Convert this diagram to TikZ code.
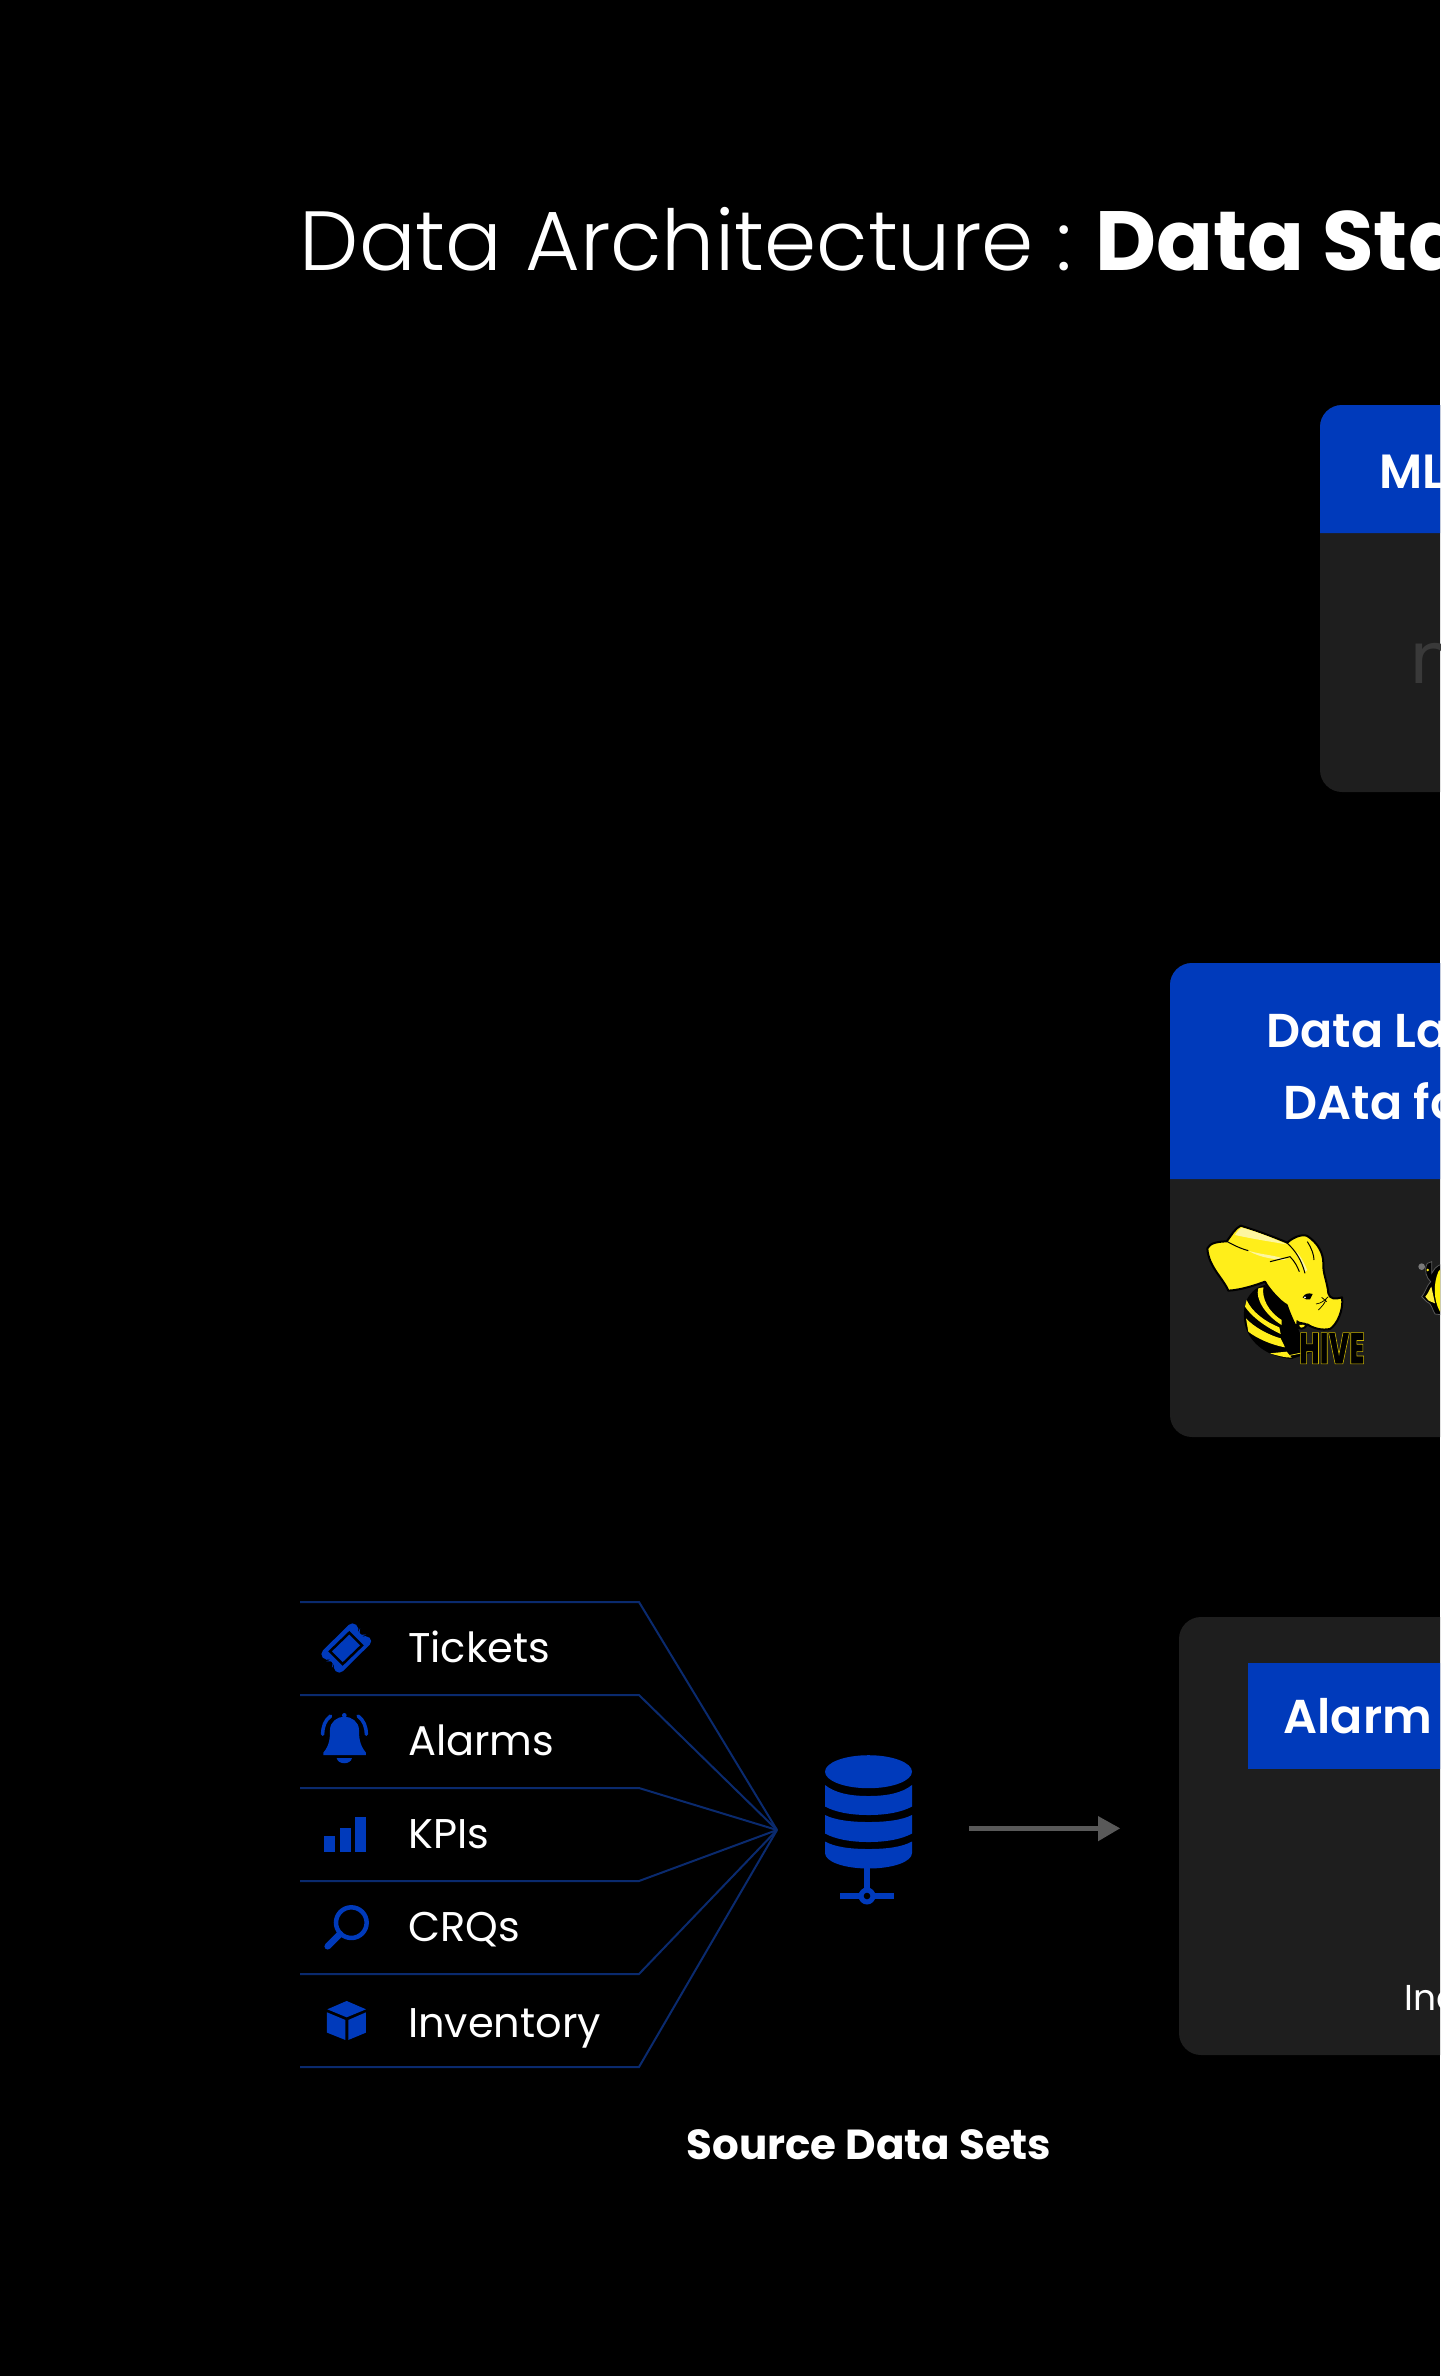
\documentclass[tikz,border=0pt]{standalone}
\usepackage{fontspec}
\setmainfont{Poppins}
\newfontfamily\plight[UprightFont={* Light}]{Poppins}
\newfontfamily\psemi[UprightFont={* SemiBold}]{Poppins}
\newfontfamily\pbold[UprightFont={* Bold}]{Poppins}
\newfontfamily\pheavy[UprightFont={* Black},FakeStretch=0.62]{Poppins}
\definecolor{brandblue}{HTML}{003ABB}
\definecolor{linkblue}{HTML}{0A2A6E}
\definecolor{panelgrey}{HTML}{1E1E1E}
\definecolor{arrowgrey}{HTML}{595959}
\definecolor{hiveyellow}{HTML}{FFEE1A}
\definecolor{hivelight}{HTML}{FDF6A0}
\tikzset{
  txt/.style={anchor=base west,inner sep=0pt,text=white},
  panel/.style={fill=panelgrey,rounded corners=22pt,draw=none},
  listline/.style={draw=linkblue,line width=2pt},
  listlabel/.style={txt,font=\fontsize{41.5}{50}\selectfont},
  icon/.style={fill=brandblue,draw=none},
  hivefill/.style={fill=hiveyellow,draw=none},
  hivedark/.style={fill=black,draw=none}
}
\begin{document}
\begin{tikzpicture}[x=1pt,y=-1pt]
\useasboundingbox (0,0) rectangle (1440,2376);
\clip (0,0) rectangle (1440,2376);
\fill[black] (0,0) rectangle (1440,2376);
% title
\node[txt,font=\plight\fontsize{84}{100}\selectfont] (title) at (299.5,270) {Data Architecture :};
\node[txt,font=\pbold\fontsize{84}{100}\selectfont] (titleb) at (1095,270) {Data Sta};
% panels
\path[panel] (1320,405) rectangle (1600,792);
\path[fill=brandblue] (1320,533) [rounded corners=22pt] -- (1320,405) -- (1600,405) [sharp corners] -- (1600,533) -- cycle;
\node[txt,font=\psemi\fontsize{48}{56}\selectfont] (ml) at (1379.5,488) {ML};
\node[txt,font=\fontsize{72}{86}\selectfont,text=white!12!panelgrey] (mlbody) at (1410,683) {n};
\path[panel] (1170,963) rectangle (1600,1437);
\path[fill=brandblue] (1170,1179) [rounded corners=22pt] -- (1170,963) -- (1600,963) [sharp corners] -- (1600,1179) -- cycle;
\node[txt,font=\psemi\fontsize{47.5}{56}\selectfont] (lake1) at (1266.5,1047) {Data La};
\node[txt,font=\psemi\fontsize{47.5}{56}\selectfont] (lake2) at (1283.5,1119) {DAta fo};
\path[panel] (1179,1617) rectangle (1600,2055);
\fill[brandblue] (1248,1663) rectangle (1600,1769);
\node[txt,font=\psemi\fontsize{47.5}{56}\selectfont] (alarm) at (1283.5,1733) {Alarm};
\node[txt,font=\fontsize{36}{44}\selectfont] (inc) at (1404,2010) {Inc};
% source list
\coordinate (apex) at (777,1830);
\foreach \n/\y/\kx/\ky in {a/1602/639/1602,b/1695/639/1695,c/1788/639/1788,d/1881/639/1881,e/1974/639/1974,f/2067/639/2067}{
  \coordinate (s\n) at (300,\y);
  \coordinate (k\n) at (\kx,\ky);
  \draw[listline,line join=miter] (s\n) -- (k\n) -- (apex);
}
\node[listlabel] (l1) at (408,1662) {Tickets};
\node[listlabel] (l2) at (408,1755) {Alarms};
\node[listlabel] (l3) at (408,1848) {KPIs};
\node[listlabel] (l4) at (408,1941) {CRQs};
\node[listlabel] (l5) at (408,2037) {Inventory};
\node[txt,anchor=base,font=\pbold\fontsize{42}{50}\selectfont] (src) at (869,2159) {Source Data Sets};
% icons: coordinates as in a 3x crop
\begin{scope}[shift={(310,1610)},x=0.3333pt,y=-0.3333pt]
  \fill[brandblue,rounded corners=5pt] (127,34) -- (150,55) -- (144,68) -- (155,79) -- (168,74) -- (190,93) -- (88,194) -- (66,173) -- (73,160) -- (62,149) -- (49,154) -- (28,132) -- cycle;
  \draw[black,line width=2.5pt] (118,68) -- (156,106) -- (98,162) -- (60,124) -- cycle;
\end{scope}
\begin{scope}[shift={(280,1570)},x=0.3333pt,y=-0.3333pt]
  % bell
  \fill[icon] (130,548) .. controls (150,525) and (150,500) .. (150,480) .. controls (150,455) and (172,440) .. (193,440) .. controls (214,440) and (237,455) .. (237,480) .. controls (237,500) and (238,525) .. (258,548) -- (258,555) -- (130,555) -- cycle;
  \fill[icon] (170,564) -- (216,564) .. controls (212,585) and (174,585) .. (170,564) -- cycle;
  \fill[icon] (193,436) circle (7);
  \draw[brandblue,line width=3.5pt,line cap=round] (152,438) .. controls (135,450) and (128,470) .. (128,493);
  \draw[brandblue,line width=3.5pt,line cap=round] (234,438) .. controls (251,450) and (259,470) .. (259,493);
  % bars
  \fill[icon] (132,797) rectangle (164,845);
  \fill[icon] (180,773) rectangle (212,845);
  \fill[icon] (226,742) rectangle (258,845);
  % magnifier
  \draw[brandblue,line width=4.5pt] (214,1058) circle (46);
  \draw[brandblue,line width=6.5pt,line cap=round] (180,1092) -- (143,1129);
  % cube
  \fill[icon] (200,1293) -- (258,1318) -- (200,1342) -- (142,1318) -- cycle;
  \fill[icon] (141,1327) -- (196,1350) -- (196,1410) -- (141,1388) -- cycle;
  \fill[icon] (205,1350) -- (258,1327) -- (258,1388) -- (205,1410) -- cycle;
\end{scope}
% database
\fill[brandblue] (825,1785) .. controls (835,1793) and (850,1796) .. (868.5,1796) .. controls (887,1796) and (902,1793) .. (912,1785) -- (912,1806.5) .. controls (902,1812) and (887,1815) .. (868.5,1815) .. controls (850,1815) and (835,1812) .. (825,1806.5) -- cycle;
\fill[brandblue] (825,1815) .. controls (835,1820) and (850,1822) .. (868.5,1822) .. controls (887,1822) and (902,1820) .. (912,1815) -- (912,1833.5) .. controls (902,1839) and (887,1842) .. (868.5,1842) .. controls (850,1842) and (835,1839) .. (825,1833.5) -- cycle;
\fill[brandblue] (825,1841.5) .. controls (835,1847) and (850,1849) .. (868.5,1849) .. controls (887,1849) and (902,1847) .. (912,1841.5) -- (912,1853) .. controls (912,1862) and (892,1868.5) .. (868.5,1868.5) .. controls (845,1868.5) and (825,1862) .. (825,1853) -- cycle;
\fill[brandblue] (868.5,1771.7) ellipse (43.5 and 16.5);
\fill[brandblue] (864.2,1868) rectangle (869.8,1895);
\fill[brandblue] (840,1892.7) rectangle (894,1899);
\fill[brandblue] (867,1896) circle (8.5);
\fill[black] (867,1896) circle (3.3);
\node[inner sep=0pt,minimum size=1pt] (db) at (868.5,1828) {};
% arrow
\coordinate (arrowstart) at (969,1828.3);
\coordinate (arrowhead) at (1098,1828.3);
\coordinate (arrowtip) at (1120,1828.3);
\draw[arrowgrey,line width=4.5pt] (arrowstart) -- (arrowhead);
\fill[arrowgrey] (1098,1816) -- (arrowtip) -- (1098,1841.3) -- cycle;
% hive logo, coordinates as in a 3x crop
\begin{scope}[shift={(1190,1210)},x=0.3333pt,y=-0.3333pt]
  \fill[black] (225,225) .. controls (165,240) and (155,300) .. (165,345) .. controls (180,400) and (230,440) .. (305,447) -- (370,425) -- (330,370) -- (300,300) -- cycle;
  \fill[hiveyellow] (205,235) .. controls (195,265) and (225,315) .. (275,345) -- (275,330) .. controls (235,305) and (215,265) .. (220,232) -- cycle;
  \fill[hiveyellow] (165,290) .. controls (185,320) and (225,350) .. (272,372) -- (268,352) .. controls (225,335) and (185,305) .. (170,270) -- cycle;
  \fill[hiveyellow] (175,365) .. controls (200,385) and (245,405) .. (285,412) -- (272,385) .. controls (235,375) and (190,350) .. (168,325) -- cycle;
  \fill[hiveyellow] (240,430) .. controls (262,437) and (285,443) .. (305,443) -- (290,425) -- cycle;
  % ear and head
  \path[hivefill,draw=black,line width=2pt,line join=round] (52,115) .. controls (60,98) and (85,95) .. (110,94) .. controls (125,75) and (135,55) .. (152,47) .. controls (195,60) and (250,80) .. (292,98) .. controls (305,85) and (335,70) .. (352,78) .. controls (385,100) and (400,130) .. (400,160) .. controls (398,190) and (412,215) .. (415,250) .. controls (420,268) and (435,268) .. (456,262) .. controls (462,300) and (440,345) .. (420,357) .. controls (395,362) and (370,355) .. (352,343) .. controls (345,358) and (325,362) .. (315,345) .. controls (305,325) and (295,300) .. (290,285) .. controls (270,275) and (235,235) .. (225,215) .. controls (190,228) and (150,240) .. (115,242) .. controls (100,205) and (55,170) .. (52,115) -- cycle;
  % highlights
  \fill[hivelight] (135,75) .. controls (145,60) and (150,55) .. (155,53) .. controls (200,65) and (250,85) .. (290,103) .. controls (240,95) and (180,85) .. (135,75) -- cycle;
  \fill[hivelight] (175,122) .. controls (215,135) and (260,135) .. (290,150) .. controls (270,150) and (210,145) .. (175,122) -- cycle;
  \fill[hivelight] (320,125) -- (345,185) -- (352,180) .. controls (340,155) and (330,135) .. (320,125) -- cycle;
  % creases
  \draw[black,line width=1pt] (290,98) .. controls (315,120) and (335,150) .. (345,190);
  \draw[black,line width=1pt] (352,95) .. controls (365,115) and (372,135) .. (372,150);
  \draw[black,line width=1pt] (240,155) .. controls (260,150) and (280,145) .. (300,140) .. controls (315,155) and (322,170) .. (328,185);
  \draw[black,line width=1pt] (110,94) .. controls (130,105) and (150,115) .. (175,122);
  % face
  \fill[black] (338,262) .. controls (345,250) and (355,248) .. (368,252) -- (360,268) .. controls (352,270) and (345,268) .. (338,262) -- cycle;
  \fill[white] (345,262) circle (3);
  \draw[black,line width=.7pt] (378,282) .. controls (395,280) and (405,270) .. (415,260);
  \draw[black,line width=.7pt] (385,300) .. controls (395,290) and (405,280) .. (408,268);
  \draw[black,line width=.7pt] (395,262) -- (410,275);
  \fill[black] (320,330) .. controls (330,340) and (345,335) .. (352,342) .. controls (345,355) and (325,362) .. (318,350) -- cycle;
  \fill[hiveyellow] (328,345) .. controls (335,342) and (345,345) .. (345,347) .. controls (338,355) and (328,355) .. (328,345) -- cycle;
  \draw[hiveyellow,line width=.7pt] (300,436) -- (378,420);
\end{scope}
\node[anchor=south west,inner sep=0pt,text=black,font=\pheavy\fontsize{44}{44}\selectfont] (hive) at (1299,1364) {\special{pdf:code 2 Tr 0.6 w 0.78 0.7 0 RG}HIVE\special{pdf:code 0 Tr}};
% second logo at the edge, coordinates as in a 3x crop
\begin{scope}[shift={(1390,1240)},x=0.3333pt,y=-0.3333pt]
  \fill[black,draw=arrowgrey,line width=.8pt] (95,170) .. controls (105,160) and (108,140) .. (122,125) .. controls (110,115) and (100,90) .. (112,70) -- (125,65) -- (125,100) -- (135,85) .. controls (160,60) and (190,70) .. (200,90) -- (200,230) -- (135,222) .. controls (125,205) and (125,190) .. (110,185) -- cycle;
  \fill[hiveyellow!85!white] (106,170) .. controls (115,160) and (118,148) .. (124,140) -- (135,190) -- (116,182) -- cycle;
  \fill[yellow] (145,95) .. controls (130,130) and (130,180) .. (150,215) -- (200,225) -- (200,80) .. controls (170,70) and (155,80) .. (145,95) -- cycle;
  \fill[arrowgrey!80!white] (95,80) circle (10);
  \fill[hiveyellow] (113,90) circle (4);
\end{scope}
\end{tikzpicture}
\end{document}
